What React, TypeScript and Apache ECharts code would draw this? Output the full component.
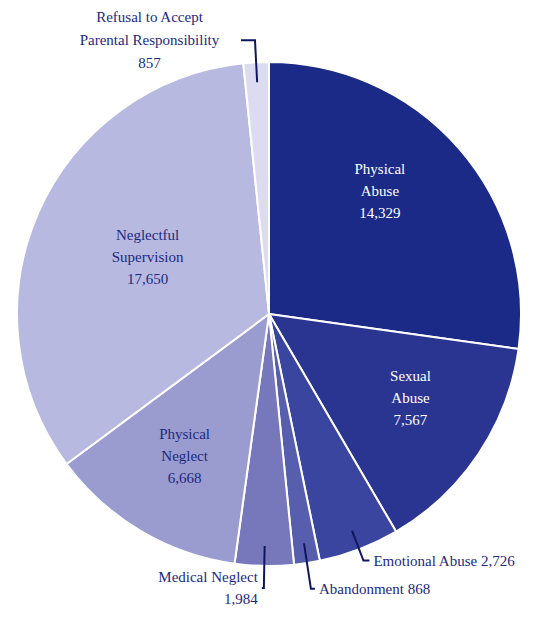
import React, { useEffect, useRef } from "react";
import * as echarts from "echarts";

const categories = [
  "Physical Abuse",
  "Sexual Abuse",
  "Emotional Abuse",
  "Abandonment",
  "Medical Neglect",
  "Physical Neglect",
  "Neglectful Supervision",
  "Refusal to Accept Parental Responsibility",
];
const values = [14329, 7567, 2726, 868, 1984, 6668, 17650, 857];
const labelTexts = [
  "Physical\nAbuse",
  "Sexual\nAbuse",
  "Emotional Abuse",
  "Abandonment",
  "Medical Neglect",
  "Physical\nNeglect",
  "Neglectful\nSupervision",
  "Refusal to Accept\nParental Responsibility",
];
const sliceColors = [
  "#1b2987",
  "#2a3592",
  "#3a45a0",
  "#585eae",
  "#7777bb",
  "#9a9bcf",
  "#b8b9e0",
  "#dcdcf0",
];

const NAVY = "#1c2a80";
const LINE = "#0e175e";
const FONT = "'Liberation Serif', 'DejaVu Serif', serif";

export default function App() {
  const ref = useRef<HTMLDivElement>(null);
  useEffect(() => {
    if (!ref.current) return;
    const chart = echarts.init(ref.current, undefined, { renderer: "svg" });
    const fmt = (v: number) => v.toLocaleString("en-US");

    const labelCfg: any[] = [
      { position: "inside", color: "#ffffff" },
      { position: "inside", color: "#ffffff" },
      { position: "outside", color: NAVY, single: true },
      { position: "outside", color: NAVY, single: true },
      { position: "outside", color: NAVY },
      { position: "inside", color: NAVY },
      { position: "inside", color: NAVY },
      { position: "outside", color: NAVY, centered: true },
    ];
    const lineLen = [0, 0, [32, 6], [46, 4], [42, 2], 0, 0, [42, 14]];
    const shifts: Record<number, [number, number]> = {
      0: [-14, -14],
      1: [4, -8],
      6: [30, 10],
    };

    const labelData = categories.map((name, i) => {
      const c = labelCfg[i];
      const txt = c.single
        ? `${labelTexts[i]} ${fmt(values[i])}`
        : `${labelTexts[i]}\n${fmt(values[i])}`;
      const item: any = {
        name,
        value: values[i],
        label: {
          show: true,
          position: c.position,
          color: c.color,
          formatter: c.centered
            ? txt
                .split("\n")
                .map((l: string) => `{c|${l}}`)
                .join("\n")
            : txt,
        },
      };
      if (c.centered) {
        item.label.width = 175;
        item.label.rich = {
          c: { align: "center", color: NAVY, fontFamily: FONT, fontSize: 15, lineHeight: 23 },
        };
      }
      if (c.position === "outside") {
        const [l1, l2] = lineLen[i] as number[];
        item.labelLine = {
          show: true,
          length: l1,
          length2: l2,
          smooth: false,
          lineStyle: { color: LINE, width: 2 },
        };
      } else {
        item.labelLine = { show: false };
      }
      return item;
    });

    chart.setOption({
      animation: false,
      backgroundColor: "#ffffff",
      series: [
        {
          type: "pie",
          silent: true,
          z: 1,
          center: [269, 314],
          radius: [0, 252],
          startAngle: 90,
          clockwise: true,
          label: { show: false },
          labelLine: { show: false },
          itemStyle: { borderColor: "#ffffff", borderWidth: 2 },
          data: categories.map((name, i) => ({
            name,
            value: values[i],
            itemStyle: { color: sliceColors[i] },
          })),
        },
        {
          type: "pie",
          silent: true,
          z: 5,
          center: [269, 314],
          radius: [93, 232],
          startAngle: 90,
          clockwise: true,
          avoidLabelOverlap: false,
          itemStyle: { color: "rgba(0,0,0,0)", borderWidth: 0 },
          label: {
            fontFamily: FONT,
            fontSize: 15,
            lineHeight: 22,
            distanceToLabelLine: 4,
          },
          labelLayout: (p: any) => {
            const s = shifts[p.dataIndex];
            return s ? { dx: s[0], dy: s[1] } : {};
          },
          data: labelData,
        },
      ],
    });
    return () => chart.dispose();
  }, []);
  return (
    <div
      ref={ref}
      style={{ position: "fixed", left: 0, top: 0, width: 538, height: 621 }}
    />
  );
}
